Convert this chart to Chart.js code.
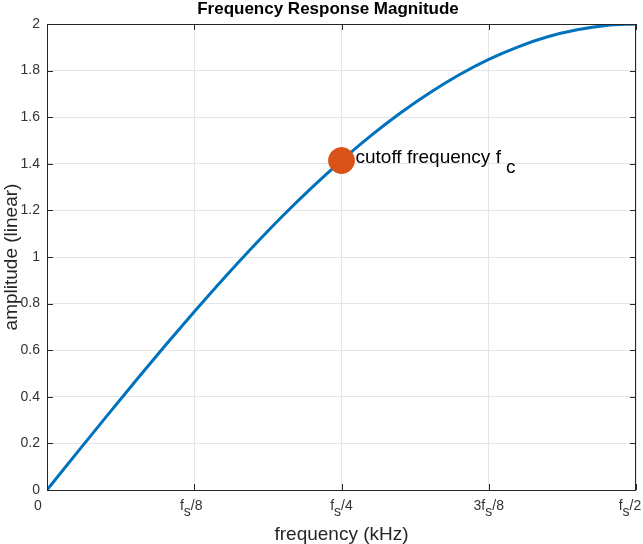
<!DOCTYPE html>
<html>
<head>
<meta charset="utf-8">
<script src="https://cdn.jsdelivr.net/npm/chart.js@4.4.0/dist/chart.umd.min.js"></script>
<style>
  html, body { margin: 0; padding: 0; background: #fff; }
  #wrap { width: 643px; height: 544px; }
</style>
</head>
<body>
<div id="wrap"><canvas id="freqChart" width="643" height="544"></canvas></div>
<script>
// frequency as a fraction of fs, magnitude
const freqs = [0, 0.025, 0.05, 0.075, 0.1, 0.125, 0.15, 0.175, 0.2, 0.225, 0.25,
               0.275, 0.3, 0.325, 0.35, 0.375, 0.4, 0.425, 0.45, 0.475, 0.5];
const magnitude = [0, 0.157, 0.313, 0.467, 0.618, 0.765, 0.908, 1.045, 1.176, 1.299, 1.414,
                   1.521, 1.618, 1.705, 1.782, 1.848, 1.902, 1.945, 1.975, 1.994, 2];
const cutoff = [0.25, 1.414];
const xTicks = [0, 0.125, 0.25, 0.375, 0.5];
const xTickLabels = [['0'], ['f', 's', '/8'], ['f', 's', '/4'], ['3f', 's', '/8'], ['f', 's', '/2']];
const yTicks = [0, 0.2, 0.4, 0.6, 0.8, 1, 1.2, 1.4, 1.6, 1.8, 2];

const FONT = '"Liberation Sans", Arial, sans-serif';
const AXIS = '#262626';

// draws [normal, subscript, normal] text pieces
function drawSub(ctx, parts, x, y, size, align, gap, drop) {
    gap = gap || 0;
    drop = drop || size * 0.4;
    ctx.font = size + 'px ' + FONT;
    let w0 = ctx.measureText(parts[0]).width + gap;
    let w2 = parts[2] ? ctx.measureText(parts[2]).width : 0;
    let w1 = parts[1] ? ctx.measureText(parts[1]).width : 0;
    let total = w0 + w1 + w2;
    let sx = align === 'center' ? x - total / 2 : x;
    ctx.textAlign = 'left';
    ctx.textBaseline = 'alphabetic';
    ctx.fillText(parts[0], sx, y);
    if (parts[1]) ctx.fillText(parts[1], sx + w0, y + drop);
    if (parts[2]) ctx.fillText(parts[2], sx + w0 + w1, y);
}

const decorPlugin = {
    id: 'decor',
    afterDraw(chart) {
        const ctx = chart.ctx;
        const a = chart.chartArea;
        const xs = chart.scales.x, ys = chart.scales.y;
        ctx.save();

        // box
        ctx.strokeStyle = AXIS;
        ctx.lineWidth = 1;
        ctx.strokeRect(a.left + 0.5, a.top + 0.5, a.right - a.left - 1, a.bottom - a.top);

        // inward ticks
        ctx.beginPath();
        yTicks.forEach(v => {
            const py = Math.round(ys.getPixelForValue(v)) + 0.5;
            ctx.moveTo(a.left, py); ctx.lineTo(a.left + 6, py);
            ctx.moveTo(a.right, py); ctx.lineTo(a.right - 6, py);
        });
        xTicks.forEach(v => {
            const px = Math.round(xs.getPixelForValue(v)) + 0.5;
            ctx.moveTo(px, a.bottom); ctx.lineTo(px, a.bottom - 6);
            ctx.moveTo(px, a.top); ctx.lineTo(px, a.top + 6);
        });
        ctx.stroke();

        // y tick labels
        ctx.fillStyle = '#333333';
        ctx.font = '14px ' + FONT;
        ctx.textAlign = 'right';
        ctx.textBaseline = 'middle';
        yTicks.forEach(v => {
            ctx.fillText(String(v), a.left - 7, ys.getPixelForValue(v));
        });

        // x tick labels
        xTicks.forEach((v, i) => {
            let px = xs.getPixelForValue(v);
            if (i === 0) px -= 9;
            if (i === 1) px -= 3;
            if (i === 4) px -= 6;
            drawSub(ctx, xTickLabels[i], px, a.bottom + 20, 14, 'center', 0, 6);
        });

        // title
        ctx.fillStyle = '#000';
        ctx.font = 'bold 17px ' + FONT;
        ctx.textAlign = 'center';
        ctx.textBaseline = 'alphabetic';
        ctx.fillText('Frequency Response Magnitude', 328, 14);

        // axis titles
        ctx.fillStyle = '#262626';
        ctx.font = '19px ' + FONT;
        ctx.fillText('frequency (kHz)', (a.left + a.right) / 2, 540);
        ctx.save();
        ctx.translate(17, (a.top + a.bottom) / 2);
        ctx.rotate(-Math.PI / 2);
        ctx.fillText('amplitude (linear)', 0, 0);
        ctx.restore();

        // annotation
        ctx.fillStyle = '#000';
        const mx = xs.getPixelForValue(cutoff[0]);
        const my = ys.getPixelForValue(cutoff[1]);
        drawSub(ctx, ['cutoff frequency f', 'c', ''], mx + 14, my + 2, 19, 'left', 5, 10);

        ctx.restore();
    }
};

new Chart(document.getElementById('freqChart').getContext('2d'), {
    type: 'scatter',
    data: {
        datasets: [
            {
                data: [{ x: cutoff[0], y: cutoff[1] }],
                backgroundColor: '#D95319',
                borderColor: '#D95319',
                pointRadius: 13,
                pointHoverRadius: 13,
                order: 0
            },
            {
                data: freqs.map((f, i) => ({ x: f, y: magnitude[i] })),
                showLine: true,
                borderColor: '#0072BD',
                borderWidth: 3,
                pointRadius: 0,
                cubicInterpolationMode: 'monotone',
                order: 1
            }
        ]
    },
    options: {
        responsive: false,
        animation: false,
        layout: { autoPadding: false, padding: { left: 47, right: 7, top: 24, bottom: 54 } },
        plugins: {
            legend: { display: false },
            title: { display: false },
            tooltip: { enabled: false }
        },
        scales: {
            x: {
                type: 'linear',
                min: 0,
                max: 0.5,
                afterBuildTicks: s => { s.ticks = xTicks.map(v => ({ value: v })); },
                afterFit: s => { s.height = 0; },
                ticks: { display: false },
                grid: { color: '#e5e5e5', drawTicks: false },
                border: { display: false }
            },
            y: {
                min: 0,
                max: 2,
                afterBuildTicks: s => { s.ticks = yTicks.map(v => ({ value: v })); },
                afterFit: s => { s.width = 0; },
                ticks: { display: false },
                grid: { color: '#e5e5e5', drawTicks: false },
                border: { display: false }
            }
        }
    },
    plugins: [decorPlugin]
});
</script>
</body>
</html>
